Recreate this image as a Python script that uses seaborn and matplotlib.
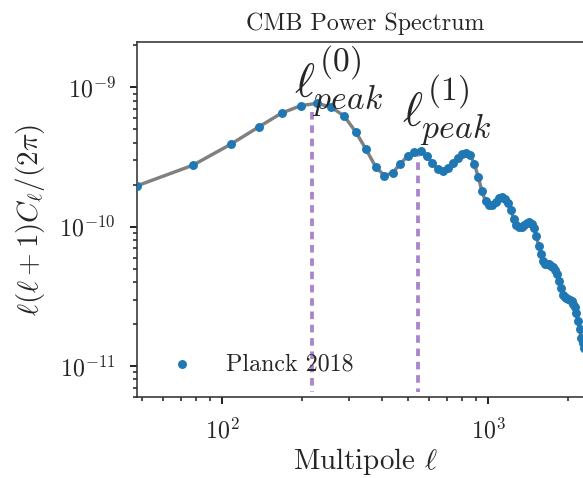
import numpy as np
import pandas as pd
import matplotlib
matplotlib.use("Agg")
import matplotlib.pyplot as plt
import seaborn as sns

# Binned multipole centres (Planck 2018 TT, Δℓ = 30)
ell = [47.7, 77.6, 107.6, 137.5, 167.5, 197.4, 227.4, 257.4, 287.4, 317.4,
       347.4, 377.4, 407.4, 437.4, 467.4, 497.4, 527.4, 557.4, 587.4, 617.4,
       647.4, 677.4, 707.4, 737.4, 767.4, 797.4, 827.4, 857.4, 887.4, 917.4,
       947.4, 977.4, 1007.4, 1037.4, 1067.4, 1097.4, 1127.4, 1157.4, 1187.4, 1217.4,
       1247.4, 1277.4, 1307.4, 1337.4, 1367.4, 1397.4, 1427.4, 1457.4, 1487.4, 1517.4,
       1547.4, 1577.4, 1607.4, 1637.4, 1667.4, 1697.4, 1727.4, 1757.4, 1787.4, 1817.4,
       1847.4, 1877.4, 1907.4, 1937.4, 1967.4, 1997.4, 2027.4, 2057.4, 2087.4, 2117.4,
       2147.4, 2177.4, 2207.4, 2237.4, 2267.4, 2297.4, 2327.4, 2357.4, 2387.4, 2417.4,
       2447.4, 2477.4, 2497.5]

# l(l+1)C_l/(2pi) in units of 1e-10
dl_e10 = [1.96, 2.76, 3.90, 5.21, 6.54, 7.38, 7.68, 7.19, 6.22, 4.80,
          3.59, 2.69, 2.32, 2.44, 2.82, 3.21, 3.45, 3.50, 3.21, 2.86,
          2.58, 2.50, 2.62, 2.86, 3.12, 3.34, 3.38, 3.25, 2.82, 2.28,
          1.80, 1.52, 1.42, 1.42, 1.50, 1.60, 1.64, 1.58, 1.48, 1.31,
          1.14, 1.03, 0.99, 0.99, 1.02, 1.06, 1.085, 1.05, 0.97, 0.86,
          0.73, 0.64, 0.565, 0.54, 0.535, 0.535, 0.525, 0.51, 0.49, 0.455,
          0.41, 0.36, 0.325, 0.315, 0.31, 0.305, 0.30, 0.295, 0.28, 0.265,
          0.24, 0.21, 0.185, 0.16, 0.145, 0.135, 0.13, 0.125, 0.12, 0.11,
          0.10, 0.09, 0.085]

peak_ell = [217, 543]
peak_top = [6.7e-10, 3.6e-10]
peak_labels = [r"$\ell_{peak}^{(0)}$", r"$\ell_{peak}^{(1)}$"]
label_pos = [(186, 5.85e-10), (475, 3.61e-10)]

sns.set_style("ticks")
plt.rcParams.update({
    "font.family": "serif",
    "font.serif": ["cmr10"],
    "mathtext.fontset": "cm",
    "axes.formatter.use_mathtext": True,
    "axes.unicode_minus": False,
    "font.size": 12,
    "axes.edgecolor": ".2",
})

df = pd.DataFrame({"ell": ell, "Dl": np.array(dl_e10) * 1e-10})

DPI = 144
fig = plt.figure(figsize=(583 / DPI, 478 / DPI), dpi=DPI)
ax = fig.add_axes([136.7 / 583, (478 - 397.3) / 478,
                   (593.9 - 136.7) / 583, (397.3 - 41.7) / 478])

sns.lineplot(data=df, x="ell", y="Dl", color="gray", lw=1.7, ax=ax, zorder=1)
for x, top in zip(peak_ell, peak_top):
    ax.plot([x, x], [top, 6.5e-12], color="tab:purple", alpha=0.8,
            lw=1.9, dashes=(2.0, 1.5), zorder=2)
sns.scatterplot(data=df, x="ell", y="Dl", color="#1f77b4", s=20,
                linewidth=0, ax=ax, label="Planck 2018", zorder=3)

for (x, y), txt in zip(label_pos, peak_labels):
    ax.text(x, y, txt, fontsize=24, ha="left", va="bottom")

ax.set_xscale("log")
ax.set_yscale("log")
ax.set_xlim(ell[0], ell[-1])
ax.set_ylim(5.96e-12, 2.125e-9)
ax.tick_params(which="major", length=3.5, width=1, labelsize=12)
ax.tick_params(which="minor", length=2, width=0.8)
ax.tick_params(axis="y", which="major", pad=7)
ax.tick_params(axis="x", which="major", pad=7)
ax.set_xlabel(r"Multipole $\ell$", fontsize=14.5, labelpad=1)
ax.set_ylabel(r"$\ell(\ell+1)C_\ell/(2\pi)$", fontsize=14.5, labelpad=6)
ax.set_title("CMB Power Spectrum", fontsize=12)
ax.legend(loc="lower left", frameon=False, fontsize=12)

fig.savefig("out.png", dpi=DPI)
